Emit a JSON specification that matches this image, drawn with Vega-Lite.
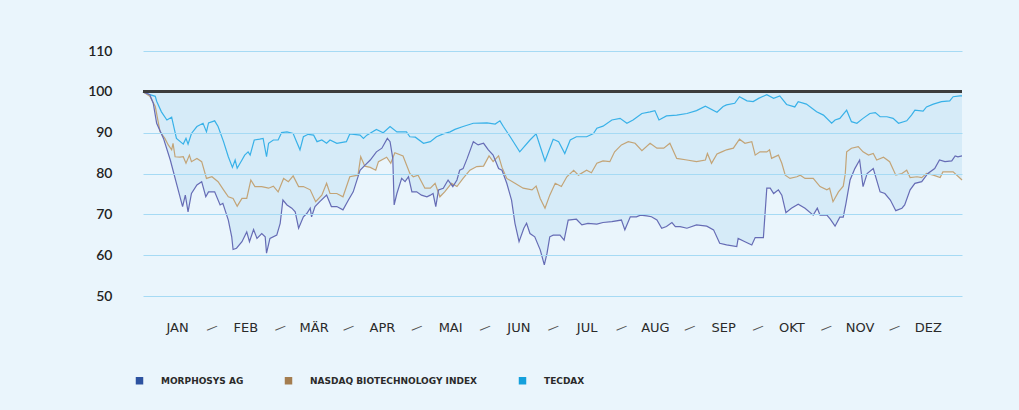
{
  "$schema": "https://vega.github.io/schema/vega-lite/v6.json",
  "autosize": {"type": "none"},
  "width": 819,
  "height": 245,
  "padding": {"left": 143, "top": 51, "right": 57, "bottom": 114},
  "background": "#eaf5fc",
  "config": {
    "view": {"stroke": null},
    "axis": {"domain": false, "ticks": false, "tickSize": 0, "title": null}
  },
  "resolve": {"axis": {"x": "independent"}},
  "data": {"values": [
    {"s":"TecDAX","t":0.00,"v":100},{"s":"TecDAX","t":0.10,"v":99.3},{"s":"TecDAX","t":0.18,"v":98.9},{"s":"TecDAX","t":0.20,"v":97.7},{"s":"TecDAX","t":0.27,"v":95.1},{"s":"TecDAX","t":0.35,"v":93.1},{"s":"TecDAX","t":0.42,"v":93.8},{"s":"TecDAX","t":0.44,"v":92.3},{"s":"TecDAX","t":0.49,"v":88.6},{"s":"TecDAX","t":0.59,"v":87.2},{"s":"TecDAX","t":0.63,"v":88.6},{"s":"TecDAX","t":0.66,"v":87.2},{"s":"TecDAX","t":0.71,"v":89.8},{"s":"TecDAX","t":0.79,"v":91.5},{"s":"TecDAX","t":0.88,"v":92.3},{"s":"TecDAX","t":0.93,"v":90.2},{"s":"TecDAX","t":0.96,"v":92.4},{"s":"TecDAX","t":1.05,"v":92.9},{"s":"TecDAX","t":1.10,"v":91.5},{"s":"TecDAX","t":1.18,"v":87.8},{"s":"TecDAX","t":1.25,"v":84.1},{"s":"TecDAX","t":1.31,"v":81.5},{"s":"TecDAX","t":1.35,"v":83.3},{"s":"TecDAX","t":1.38,"v":81.3},{"s":"TecDAX","t":1.45,"v":83.3},{"s":"TecDAX","t":1.49,"v":84.5},{"s":"TecDAX","t":1.54,"v":85.3},{"s":"TecDAX","t":1.57,"v":84.5},{"s":"TecDAX","t":1.63,"v":88.2},{"s":"TecDAX","t":1.71,"v":88.4},{"s":"TecDAX","t":1.76,"v":88.6},{"s":"TecDAX","t":1.81,"v":84.1},{"s":"TecDAX","t":1.84,"v":87.4},{"s":"TecDAX","t":1.91,"v":88.2},{"s":"TecDAX","t":1.98,"v":88.2},{"s":"TecDAX","t":2.03,"v":90.0},{"s":"TecDAX","t":2.11,"v":90.2},{"s":"TecDAX","t":2.20,"v":89.8},{"s":"TecDAX","t":2.25,"v":87.8},{"s":"TecDAX","t":2.30,"v":85.8},{"s":"TecDAX","t":2.35,"v":89.0},{"s":"TecDAX","t":2.42,"v":89.6},{"s":"TecDAX","t":2.50,"v":89.4},{"s":"TecDAX","t":2.55,"v":87.8},{"s":"TecDAX","t":2.62,"v":88.2},{"s":"TecDAX","t":2.69,"v":87.4},{"s":"TecDAX","t":2.74,"v":88.2},{"s":"TecDAX","t":2.84,"v":87.4},{"s":"TecDAX","t":2.98,"v":87.8},{"s":"TecDAX","t":3.03,"v":89.7},{"s":"TecDAX","t":3.18,"v":89.4},{"s":"TecDAX","t":3.23,"v":88.6},{"s":"TecDAX","t":3.28,"v":89.4},{"s":"TecDAX","t":3.42,"v":90.8},{"s":"TecDAX","t":3.52,"v":90.0},{"s":"TecDAX","t":3.62,"v":91.5},{"s":"TecDAX","t":3.72,"v":90.2},{"s":"TecDAX","t":3.86,"v":90.2},{"s":"TecDAX","t":3.91,"v":89.0},{"s":"TecDAX","t":3.99,"v":88.9},{"s":"TecDAX","t":4.11,"v":87.4},{"s":"TecDAX","t":4.21,"v":87.8},{"s":"TecDAX","t":4.30,"v":89.0},{"s":"TecDAX","t":4.40,"v":89.7},{"s":"TecDAX","t":4.50,"v":90.2},{"s":"TecDAX","t":4.57,"v":90.8},{"s":"TecDAX","t":4.69,"v":91.5},{"s":"TecDAX","t":4.84,"v":92.3},{"s":"TecDAX","t":5.04,"v":92.4},{"s":"TecDAX","t":5.16,"v":92.1},{"s":"TecDAX","t":5.23,"v":92.9},{"s":"TecDAX","t":5.28,"v":91.5},{"s":"TecDAX","t":5.38,"v":89.0},{"s":"TecDAX","t":5.52,"v":85.3},{"s":"TecDAX","t":5.67,"v":88.2},{"s":"TecDAX","t":5.76,"v":89.7},{"s":"TecDAX","t":5.82,"v":86.6},{"s":"TecDAX","t":5.89,"v":83.1},{"s":"TecDAX","t":6.01,"v":88.4},{"s":"TecDAX","t":6.09,"v":87.8},{"s":"TecDAX","t":6.18,"v":84.9},{"s":"TecDAX","t":6.26,"v":88.2},{"s":"TecDAX","t":6.35,"v":89.0},{"s":"TecDAX","t":6.50,"v":89.0},{"s":"TecDAX","t":6.60,"v":89.8},{"s":"TecDAX","t":6.65,"v":91.1},{"s":"TecDAX","t":6.74,"v":91.6},{"s":"TecDAX","t":6.87,"v":93.1},{"s":"TecDAX","t":6.99,"v":93.5},{"s":"TecDAX","t":7.09,"v":92.3},{"s":"TecDAX","t":7.18,"v":93.1},{"s":"TecDAX","t":7.31,"v":94.7},{"s":"TecDAX","t":7.43,"v":95.1},{"s":"TecDAX","t":7.50,"v":95.4},{"s":"TecDAX","t":7.56,"v":93.1},{"s":"TecDAX","t":7.67,"v":94.1},{"s":"TecDAX","t":7.82,"v":94.3},{"s":"TecDAX","t":7.97,"v":94.7},{"s":"TecDAX","t":8.11,"v":95.4},{"s":"TecDAX","t":8.24,"v":96.5},{"s":"TecDAX","t":8.41,"v":95.0},{"s":"TecDAX","t":8.50,"v":96.4},{"s":"TecDAX","t":8.55,"v":96.8},{"s":"TecDAX","t":8.67,"v":97.2},{"s":"TecDAX","t":8.74,"v":98.8},{"s":"TecDAX","t":8.85,"v":97.8},{"s":"TecDAX","t":8.94,"v":97.6},{"s":"TecDAX","t":9.02,"v":98.4},{"s":"TecDAX","t":9.14,"v":99.3},{"s":"TecDAX","t":9.24,"v":98.4},{"s":"TecDAX","t":9.33,"v":99.0},{"s":"TecDAX","t":9.43,"v":96.9},{"s":"TecDAX","t":9.55,"v":96.3},{"s":"TecDAX","t":9.60,"v":97.6},{"s":"TecDAX","t":9.72,"v":97.0},{"s":"TecDAX","t":9.87,"v":95.1},{"s":"TecDAX","t":9.97,"v":94.3},{"s":"TecDAX","t":10.09,"v":92.3},{"s":"TecDAX","t":10.14,"v":93.1},{"s":"TecDAX","t":10.21,"v":93.5},{"s":"TecDAX","t":10.31,"v":95.5},{"s":"TecDAX","t":10.38,"v":92.7},{"s":"TecDAX","t":10.46,"v":92.3},{"s":"TecDAX","t":10.55,"v":93.5},{"s":"TecDAX","t":10.65,"v":94.7},{"s":"TecDAX","t":10.73,"v":94.9},{"s":"TecDAX","t":10.80,"v":93.9},{"s":"TecDAX","t":10.90,"v":93.9},{"s":"TecDAX","t":10.99,"v":93.5},{"s":"TecDAX","t":11.07,"v":92.3},{"s":"TecDAX","t":11.19,"v":92.9},{"s":"TecDAX","t":11.26,"v":94.3},{"s":"TecDAX","t":11.31,"v":95.5},{"s":"TecDAX","t":11.43,"v":95.3},{"s":"TecDAX","t":11.48,"v":96.3},{"s":"TecDAX","t":11.58,"v":97.0},{"s":"TecDAX","t":11.70,"v":97.6},{"s":"TecDAX","t":11.82,"v":97.8},{"s":"TecDAX","t":11.87,"v":98.8},{"s":"TecDAX","t":11.97,"v":99.0},{"s":"TecDAX","t":12.00,"v":99.0},
    {"s":"Nasdaq Biotechnology Index","t":0.00,"v":100},{"s":"Nasdaq Biotechnology Index","t":0.10,"v":98.9},{"s":"Nasdaq Biotechnology Index","t":0.18,"v":96.4},{"s":"Nasdaq Biotechnology Index","t":0.25,"v":90.2},{"s":"Nasdaq Biotechnology Index","t":0.32,"v":88.6},{"s":"Nasdaq Biotechnology Index","t":0.37,"v":87.0},{"s":"Nasdaq Biotechnology Index","t":0.42,"v":85.8},{"s":"Nasdaq Biotechnology Index","t":0.44,"v":87.4},{"s":"Nasdaq Biotechnology Index","t":0.47,"v":84.1},{"s":"Nasdaq Biotechnology Index","t":0.54,"v":84.0},{"s":"Nasdaq Biotechnology Index","t":0.59,"v":84.1},{"s":"Nasdaq Biotechnology Index","t":0.63,"v":82.5},{"s":"Nasdaq Biotechnology Index","t":0.68,"v":84.5},{"s":"Nasdaq Biotechnology Index","t":0.71,"v":82.9},{"s":"Nasdaq Biotechnology Index","t":0.79,"v":83.7},{"s":"Nasdaq Biotechnology Index","t":0.86,"v":82.9},{"s":"Nasdaq Biotechnology Index","t":0.93,"v":78.8},{"s":"Nasdaq Biotechnology Index","t":1.01,"v":79.2},{"s":"Nasdaq Biotechnology Index","t":1.10,"v":78.0},{"s":"Nasdaq Biotechnology Index","t":1.18,"v":76.0},{"s":"Nasdaq Biotechnology Index","t":1.25,"v":74.3},{"s":"Nasdaq Biotechnology Index","t":1.32,"v":73.9},{"s":"Nasdaq Biotechnology Index","t":1.38,"v":72.0},{"s":"Nasdaq Biotechnology Index","t":1.45,"v":73.9},{"s":"Nasdaq Biotechnology Index","t":1.52,"v":73.9},{"s":"Nasdaq Biotechnology Index","t":1.58,"v":78.4},{"s":"Nasdaq Biotechnology Index","t":1.64,"v":76.8},{"s":"Nasdaq Biotechnology Index","t":1.74,"v":76.8},{"s":"Nasdaq Biotechnology Index","t":1.84,"v":76.4},{"s":"Nasdaq Biotechnology Index","t":1.91,"v":76.9},{"s":"Nasdaq Biotechnology Index","t":1.98,"v":75.5},{"s":"Nasdaq Biotechnology Index","t":2.06,"v":78.8},{"s":"Nasdaq Biotechnology Index","t":2.13,"v":78.0},{"s":"Nasdaq Biotechnology Index","t":2.20,"v":79.4},{"s":"Nasdaq Biotechnology Index","t":2.28,"v":76.8},{"s":"Nasdaq Biotechnology Index","t":2.35,"v":76.8},{"s":"Nasdaq Biotechnology Index","t":2.45,"v":76.0},{"s":"Nasdaq Biotechnology Index","t":2.53,"v":73.1},{"s":"Nasdaq Biotechnology Index","t":2.62,"v":74.7},{"s":"Nasdaq Biotechnology Index","t":2.69,"v":77.6},{"s":"Nasdaq Biotechnology Index","t":2.74,"v":75.1},{"s":"Nasdaq Biotechnology Index","t":2.84,"v":75.1},{"s":"Nasdaq Biotechnology Index","t":2.93,"v":74.3},{"s":"Nasdaq Biotechnology Index","t":3.03,"v":79.2},{"s":"Nasdaq Biotechnology Index","t":3.15,"v":79.6},{"s":"Nasdaq Biotechnology Index","t":3.19,"v":84.1},{"s":"Nasdaq Biotechnology Index","t":3.25,"v":81.8},{"s":"Nasdaq Biotechnology Index","t":3.33,"v":81.5},{"s":"Nasdaq Biotechnology Index","t":3.41,"v":80.8},{"s":"Nasdaq Biotechnology Index","t":3.45,"v":82.9},{"s":"Nasdaq Biotechnology Index","t":3.57,"v":84.0},{"s":"Nasdaq Biotechnology Index","t":3.63,"v":82.5},{"s":"Nasdaq Biotechnology Index","t":3.69,"v":85.1},{"s":"Nasdaq Biotechnology Index","t":3.81,"v":84.3},{"s":"Nasdaq Biotechnology Index","t":3.91,"v":80.0},{"s":"Nasdaq Biotechnology Index","t":3.96,"v":79.2},{"s":"Nasdaq Biotechnology Index","t":4.03,"v":79.6},{"s":"Nasdaq Biotechnology Index","t":4.13,"v":76.4},{"s":"Nasdaq Biotechnology Index","t":4.21,"v":76.4},{"s":"Nasdaq Biotechnology Index","t":4.28,"v":77.6},{"s":"Nasdaq Biotechnology Index","t":4.35,"v":74.3},{"s":"Nasdaq Biotechnology Index","t":4.42,"v":75.5},{"s":"Nasdaq Biotechnology Index","t":4.52,"v":77.6},{"s":"Nasdaq Biotechnology Index","t":4.60,"v":76.8},{"s":"Nasdaq Biotechnology Index","t":4.69,"v":78.8},{"s":"Nasdaq Biotechnology Index","t":4.79,"v":80.8},{"s":"Nasdaq Biotechnology Index","t":4.89,"v":81.7},{"s":"Nasdaq Biotechnology Index","t":4.99,"v":81.8},{"s":"Nasdaq Biotechnology Index","t":5.07,"v":84.3},{"s":"Nasdaq Biotechnology Index","t":5.13,"v":82.9},{"s":"Nasdaq Biotechnology Index","t":5.21,"v":84.3},{"s":"Nasdaq Biotechnology Index","t":5.26,"v":81.5},{"s":"Nasdaq Biotechnology Index","t":5.33,"v":78.8},{"s":"Nasdaq Biotechnology Index","t":5.45,"v":77.6},{"s":"Nasdaq Biotechnology Index","t":5.57,"v":76.4},{"s":"Nasdaq Biotechnology Index","t":5.70,"v":76.0},{"s":"Nasdaq Biotechnology Index","t":5.76,"v":76.9},{"s":"Nasdaq Biotechnology Index","t":5.82,"v":73.9},{"s":"Nasdaq Biotechnology Index","t":5.89,"v":71.5},{"s":"Nasdaq Biotechnology Index","t":5.96,"v":74.7},{"s":"Nasdaq Biotechnology Index","t":6.04,"v":77.6},{"s":"Nasdaq Biotechnology Index","t":6.13,"v":76.8},{"s":"Nasdaq Biotechnology Index","t":6.21,"v":79.2},{"s":"Nasdaq Biotechnology Index","t":6.31,"v":80.8},{"s":"Nasdaq Biotechnology Index","t":6.38,"v":79.6},{"s":"Nasdaq Biotechnology Index","t":6.50,"v":80.8},{"s":"Nasdaq Biotechnology Index","t":6.57,"v":80.2},{"s":"Nasdaq Biotechnology Index","t":6.65,"v":82.5},{"s":"Nasdaq Biotechnology Index","t":6.74,"v":83.1},{"s":"Nasdaq Biotechnology Index","t":6.84,"v":82.9},{"s":"Nasdaq Biotechnology Index","t":6.91,"v":85.3},{"s":"Nasdaq Biotechnology Index","t":7.01,"v":87.0},{"s":"Nasdaq Biotechnology Index","t":7.11,"v":87.8},{"s":"Nasdaq Biotechnology Index","t":7.21,"v":87.4},{"s":"Nasdaq Biotechnology Index","t":7.31,"v":85.6},{"s":"Nasdaq Biotechnology Index","t":7.43,"v":87.4},{"s":"Nasdaq Biotechnology Index","t":7.53,"v":86.2},{"s":"Nasdaq Biotechnology Index","t":7.63,"v":86.2},{"s":"Nasdaq Biotechnology Index","t":7.72,"v":87.4},{"s":"Nasdaq Biotechnology Index","t":7.82,"v":83.7},{"s":"Nasdaq Biotechnology Index","t":7.97,"v":83.3},{"s":"Nasdaq Biotechnology Index","t":8.11,"v":82.9},{"s":"Nasdaq Biotechnology Index","t":8.24,"v":83.3},{"s":"Nasdaq Biotechnology Index","t":8.27,"v":84.9},{"s":"Nasdaq Biotechnology Index","t":8.33,"v":82.5},{"s":"Nasdaq Biotechnology Index","t":8.41,"v":84.8},{"s":"Nasdaq Biotechnology Index","t":8.48,"v":85.3},{"s":"Nasdaq Biotechnology Index","t":8.55,"v":85.8},{"s":"Nasdaq Biotechnology Index","t":8.65,"v":86.2},{"s":"Nasdaq Biotechnology Index","t":8.74,"v":88.4},{"s":"Nasdaq Biotechnology Index","t":8.82,"v":87.4},{"s":"Nasdaq Biotechnology Index","t":8.92,"v":87.8},{"s":"Nasdaq Biotechnology Index","t":8.97,"v":84.5},{"s":"Nasdaq Biotechnology Index","t":9.04,"v":85.3},{"s":"Nasdaq Biotechnology Index","t":9.14,"v":85.3},{"s":"Nasdaq Biotechnology Index","t":9.18,"v":85.8},{"s":"Nasdaq Biotechnology Index","t":9.21,"v":83.7},{"s":"Nasdaq Biotechnology Index","t":9.31,"v":84.5},{"s":"Nasdaq Biotechnology Index","t":9.36,"v":82.5},{"s":"Nasdaq Biotechnology Index","t":9.41,"v":79.6},{"s":"Nasdaq Biotechnology Index","t":9.48,"v":78.8},{"s":"Nasdaq Biotechnology Index","t":9.58,"v":79.2},{"s":"Nasdaq Biotechnology Index","t":9.63,"v":79.6},{"s":"Nasdaq Biotechnology Index","t":9.70,"v":78.8},{"s":"Nasdaq Biotechnology Index","t":9.82,"v":78.8},{"s":"Nasdaq Biotechnology Index","t":9.92,"v":76.8},{"s":"Nasdaq Biotechnology Index","t":10.02,"v":76.0},{"s":"Nasdaq Biotechnology Index","t":10.06,"v":76.4},{"s":"Nasdaq Biotechnology Index","t":10.11,"v":73.1},{"s":"Nasdaq Biotechnology Index","t":10.19,"v":75.5},{"s":"Nasdaq Biotechnology Index","t":10.26,"v":76.9},{"s":"Nasdaq Biotechnology Index","t":10.29,"v":80.0},{"s":"Nasdaq Biotechnology Index","t":10.31,"v":85.3},{"s":"Nasdaq Biotechnology Index","t":10.38,"v":86.2},{"s":"Nasdaq Biotechnology Index","t":10.48,"v":86.6},{"s":"Nasdaq Biotechnology Index","t":10.55,"v":85.3},{"s":"Nasdaq Biotechnology Index","t":10.63,"v":84.5},{"s":"Nasdaq Biotechnology Index","t":10.70,"v":84.9},{"s":"Nasdaq Biotechnology Index","t":10.75,"v":83.3},{"s":"Nasdaq Biotechnology Index","t":10.85,"v":84.0},{"s":"Nasdaq Biotechnology Index","t":10.94,"v":82.9},{"s":"Nasdaq Biotechnology Index","t":11.03,"v":79.6},{"s":"Nasdaq Biotechnology Index","t":11.12,"v":80.0},{"s":"Nasdaq Biotechnology Index","t":11.19,"v":80.8},{"s":"Nasdaq Biotechnology Index","t":11.24,"v":79.0},{"s":"Nasdaq Biotechnology Index","t":11.34,"v":79.2},{"s":"Nasdaq Biotechnology Index","t":11.41,"v":79.0},{"s":"Nasdaq Biotechnology Index","t":11.48,"v":80.0},{"s":"Nasdaq Biotechnology Index","t":11.58,"v":79.6},{"s":"Nasdaq Biotechnology Index","t":11.68,"v":79.0},{"s":"Nasdaq Biotechnology Index","t":11.72,"v":80.4},{"s":"Nasdaq Biotechnology Index","t":11.87,"v":80.4},{"s":"Nasdaq Biotechnology Index","t":12.00,"v":78.4},
    {"s":"MorphoSys AG","t":0.00,"v":100},{"s":"MorphoSys AG","t":0.10,"v":99.3},{"s":"MorphoSys AG","t":0.15,"v":97.2},{"s":"MorphoSys AG","t":0.20,"v":92.3},{"s":"MorphoSys AG","t":0.30,"v":88.6},{"s":"MorphoSys AG","t":0.40,"v":83.3},{"s":"MorphoSys AG","t":0.49,"v":77.6},{"s":"MorphoSys AG","t":0.58,"v":71.9},{"s":"MorphoSys AG","t":0.62,"v":74.7},{"s":"MorphoSys AG","t":0.66,"v":70.6},{"s":"MorphoSys AG","t":0.71,"v":75.1},{"s":"MorphoSys AG","t":0.79,"v":77.2},{"s":"MorphoSys AG","t":0.86,"v":78.0},{"s":"MorphoSys AG","t":0.92,"v":74.3},{"s":"MorphoSys AG","t":0.96,"v":75.5},{"s":"MorphoSys AG","t":1.05,"v":75.5},{"s":"MorphoSys AG","t":1.13,"v":72.3},{"s":"MorphoSys AG","t":1.17,"v":72.7},{"s":"MorphoSys AG","t":1.25,"v":68.6},{"s":"MorphoSys AG","t":1.30,"v":64.5},{"s":"MorphoSys AG","t":1.32,"v":61.4},{"s":"MorphoSys AG","t":1.37,"v":61.7},{"s":"MorphoSys AG","t":1.45,"v":63.3},{"s":"MorphoSys AG","t":1.52,"v":65.7},{"s":"MorphoSys AG","t":1.56,"v":63.3},{"s":"MorphoSys AG","t":1.62,"v":66.3},{"s":"MorphoSys AG","t":1.67,"v":64.1},{"s":"MorphoSys AG","t":1.74,"v":65.3},{"s":"MorphoSys AG","t":1.79,"v":64.5},{"s":"MorphoSys AG","t":1.81,"v":60.5},{"s":"MorphoSys AG","t":1.86,"v":64.1},{"s":"MorphoSys AG","t":1.96,"v":64.9},{"s":"MorphoSys AG","t":2.01,"v":67.8},{"s":"MorphoSys AG","t":2.05,"v":73.5},{"s":"MorphoSys AG","t":2.11,"v":72.3},{"s":"MorphoSys AG","t":2.18,"v":71.5},{"s":"MorphoSys AG","t":2.23,"v":70.6},{"s":"MorphoSys AG","t":2.28,"v":66.6},{"s":"MorphoSys AG","t":2.35,"v":69.4},{"s":"MorphoSys AG","t":2.40,"v":70.2},{"s":"MorphoSys AG","t":2.45,"v":71.5},{"s":"MorphoSys AG","t":2.47,"v":69.4},{"s":"MorphoSys AG","t":2.52,"v":71.9},{"s":"MorphoSys AG","t":2.59,"v":73.1},{"s":"MorphoSys AG","t":2.69,"v":74.7},{"s":"MorphoSys AG","t":2.76,"v":71.9},{"s":"MorphoSys AG","t":2.84,"v":71.9},{"s":"MorphoSys AG","t":2.93,"v":71.1},{"s":"MorphoSys AG","t":3.01,"v":73.5},{"s":"MorphoSys AG","t":3.08,"v":75.5},{"s":"MorphoSys AG","t":3.18,"v":80.8},{"s":"MorphoSys AG","t":3.25,"v":82.0},{"s":"MorphoSys AG","t":3.33,"v":83.3},{"s":"MorphoSys AG","t":3.42,"v":85.3},{"s":"MorphoSys AG","t":3.50,"v":86.2},{"s":"MorphoSys AG","t":3.58,"v":88.6},{"s":"MorphoSys AG","t":3.62,"v":87.8},{"s":"MorphoSys AG","t":3.66,"v":83.7},{"s":"MorphoSys AG","t":3.68,"v":72.3},{"s":"MorphoSys AG","t":3.72,"v":75.1},{"s":"MorphoSys AG","t":3.79,"v":78.8},{"s":"MorphoSys AG","t":3.84,"v":78.0},{"s":"MorphoSys AG","t":3.89,"v":79.2},{"s":"MorphoSys AG","t":3.94,"v":75.5},{"s":"MorphoSys AG","t":4.01,"v":75.5},{"s":"MorphoSys AG","t":4.08,"v":74.7},{"s":"MorphoSys AG","t":4.16,"v":74.3},{"s":"MorphoSys AG","t":4.21,"v":74.7},{"s":"MorphoSys AG","t":4.25,"v":75.1},{"s":"MorphoSys AG","t":4.29,"v":71.9},{"s":"MorphoSys AG","t":4.33,"v":76.0},{"s":"MorphoSys AG","t":4.40,"v":76.4},{"s":"MorphoSys AG","t":4.47,"v":78.4},{"s":"MorphoSys AG","t":4.54,"v":76.8},{"s":"MorphoSys AG","t":4.60,"v":78.4},{"s":"MorphoSys AG","t":4.64,"v":80.8},{"s":"MorphoSys AG","t":4.69,"v":81.2},{"s":"MorphoSys AG","t":4.75,"v":83.7},{"s":"MorphoSys AG","t":4.84,"v":87.8},{"s":"MorphoSys AG","t":4.91,"v":87.0},{"s":"MorphoSys AG","t":4.99,"v":87.4},{"s":"MorphoSys AG","t":5.06,"v":85.8},{"s":"MorphoSys AG","t":5.13,"v":84.5},{"s":"MorphoSys AG","t":5.21,"v":81.2},{"s":"MorphoSys AG","t":5.26,"v":80.8},{"s":"MorphoSys AG","t":5.33,"v":77.6},{"s":"MorphoSys AG","t":5.40,"v":73.5},{"s":"MorphoSys AG","t":5.45,"v":67.8},{"s":"MorphoSys AG","t":5.51,"v":63.3},{"s":"MorphoSys AG","t":5.58,"v":66.6},{"s":"MorphoSys AG","t":5.62,"v":67.8},{"s":"MorphoSys AG","t":5.67,"v":65.3},{"s":"MorphoSys AG","t":5.74,"v":64.5},{"s":"MorphoSys AG","t":5.82,"v":61.3},{"s":"MorphoSys AG","t":5.88,"v":57.6},{"s":"MorphoSys AG","t":5.92,"v":60.5},{"s":"MorphoSys AG","t":5.96,"v":64.5},{"s":"MorphoSys AG","t":6.01,"v":64.9},{"s":"MorphoSys AG","t":6.11,"v":64.9},{"s":"MorphoSys AG","t":6.17,"v":63.7},{"s":"MorphoSys AG","t":6.23,"v":68.6},{"s":"MorphoSys AG","t":6.35,"v":68.8},{"s":"MorphoSys AG","t":6.43,"v":67.4},{"s":"MorphoSys AG","t":6.52,"v":67.8},{"s":"MorphoSys AG","t":6.65,"v":67.6},{"s":"MorphoSys AG","t":6.74,"v":68.0},{"s":"MorphoSys AG","t":6.87,"v":68.2},{"s":"MorphoSys AG","t":7.01,"v":68.6},{"s":"MorphoSys AG","t":7.06,"v":66.2},{"s":"MorphoSys AG","t":7.14,"v":69.4},{"s":"MorphoSys AG","t":7.23,"v":69.4},{"s":"MorphoSys AG","t":7.29,"v":69.8},{"s":"MorphoSys AG","t":7.38,"v":69.6},{"s":"MorphoSys AG","t":7.45,"v":69.4},{"s":"MorphoSys AG","t":7.53,"v":68.6},{"s":"MorphoSys AG","t":7.60,"v":66.6},{"s":"MorphoSys AG","t":7.67,"v":67.0},{"s":"MorphoSys AG","t":7.75,"v":68.0},{"s":"MorphoSys AG","t":7.80,"v":67.0},{"s":"MorphoSys AG","t":7.87,"v":67.0},{"s":"MorphoSys AG","t":7.97,"v":66.6},{"s":"MorphoSys AG","t":8.11,"v":67.4},{"s":"MorphoSys AG","t":8.26,"v":67.1},{"s":"MorphoSys AG","t":8.36,"v":66.2},{"s":"MorphoSys AG","t":8.45,"v":62.9},{"s":"MorphoSys AG","t":8.55,"v":62.5},{"s":"MorphoSys AG","t":8.70,"v":62.1},{"s":"MorphoSys AG","t":8.72,"v":64.1},{"s":"MorphoSys AG","t":8.82,"v":63.3},{"s":"MorphoSys AG","t":8.92,"v":62.5},{"s":"MorphoSys AG","t":8.97,"v":64.3},{"s":"MorphoSys AG","t":9.09,"v":64.3},{"s":"MorphoSys AG","t":9.14,"v":76.4},{"s":"MorphoSys AG","t":9.19,"v":76.4},{"s":"MorphoSys AG","t":9.24,"v":75.1},{"s":"MorphoSys AG","t":9.31,"v":76.0},{"s":"MorphoSys AG","t":9.36,"v":74.7},{"s":"MorphoSys AG","t":9.42,"v":70.4},{"s":"MorphoSys AG","t":9.50,"v":71.5},{"s":"MorphoSys AG","t":9.60,"v":72.5},{"s":"MorphoSys AG","t":9.70,"v":71.5},{"s":"MorphoSys AG","t":9.82,"v":69.8},{"s":"MorphoSys AG","t":9.88,"v":71.5},{"s":"MorphoSys AG","t":9.92,"v":69.8},{"s":"MorphoSys AG","t":10.02,"v":69.8},{"s":"MorphoSys AG","t":10.07,"v":68.8},{"s":"MorphoSys AG","t":10.14,"v":67.1},{"s":"MorphoSys AG","t":10.21,"v":69.3},{"s":"MorphoSys AG","t":10.26,"v":69.3},{"s":"MorphoSys AG","t":10.30,"v":72.7},{"s":"MorphoSys AG","t":10.36,"v":78.4},{"s":"MorphoSys AG","t":10.43,"v":81.2},{"s":"MorphoSys AG","t":10.50,"v":83.3},{"s":"MorphoSys AG","t":10.55,"v":76.8},{"s":"MorphoSys AG","t":10.61,"v":80.0},{"s":"MorphoSys AG","t":10.70,"v":81.2},{"s":"MorphoSys AG","t":10.80,"v":75.5},{"s":"MorphoSys AG","t":10.87,"v":75.1},{"s":"MorphoSys AG","t":10.95,"v":73.5},{"s":"MorphoSys AG","t":11.03,"v":70.9},{"s":"MorphoSys AG","t":11.12,"v":71.5},{"s":"MorphoSys AG","t":11.16,"v":72.3},{"s":"MorphoSys AG","t":11.24,"v":76.0},{"s":"MorphoSys AG","t":11.31,"v":77.6},{"s":"MorphoSys AG","t":11.41,"v":78.0},{"s":"MorphoSys AG","t":11.50,"v":80.0},{"s":"MorphoSys AG","t":11.60,"v":81.2},{"s":"MorphoSys AG","t":11.67,"v":83.3},{"s":"MorphoSys AG","t":11.75,"v":82.9},{"s":"MorphoSys AG","t":11.85,"v":83.1},{"s":"MorphoSys AG","t":11.90,"v":84.3},{"s":"MorphoSys AG","t":11.94,"v":84.1},{"s":"MorphoSys AG","t":12.00,"v":84.3}
  ]},
  "layer": [
    {
      "mark": {"type": "area", "color": "#d6ebf8", "opacity": 1},
      "encoding": {
        "x": {"field": "t", "type": "quantitative", "scale": {"domain": [0, 12], "nice": false, "zero": false},
          "axis": {
            "orient": "bottom",
            "values": [0.5, 1.5, 2.5, 3.5, 4.5, 5.5, 6.5, 7.5, 8.5, 9.5, 10.5, 11.5],
            "labelExpr": "['JAN','FEB','MÄR','APR','MAI','JUN','JUL','AUG','SEP','OKT','NOV','DEZ'][floor(datum.value)]",
            "grid": false, "labelPadding": 31, "labelBaseline": "middle", "labelAlign": "center",
            "labelFont": "DejaVu Sans", "labelFontSize": 13, "labelColor": "#2a2a2a",
            "labelOverlap": false, "labelBound": false, "labelFlush": false
          }},
        "y": {"field": "v", "type": "quantitative", "scale": {"domain": [50, 110], "nice": false, "zero": false},
          "axis": {
            "values": [50, 60, 70, 80, 90, 100, 110],
            "grid": true, "gridColor": "#a6daf4", "gridWidth": 1,
            "gridOpacity": {"condition": {"test": "datum.value === 100", "value": 0}, "value": 1},
            "zindex": 1,
            "labelPadding": 31, "labelFont": "Lato", "labelFontSize": 14, "labelFontWeight": 600, "labelColor": "#222222"
          }},
        "y2": {"datum": 100},
        "detail": {"field": "s"}
      }
    },
    {
      "mark": {"type": "line", "strokeWidth": 1.2, "interpolate": "linear"},
      "encoding": {
        "x": {"field": "t", "type": "quantitative",
          "axis": {
            "orient": "bottom",
            "values": [1, 2, 3, 4, 5, 6, 7, 8, 9, 10, 11],
            "labelExpr": "'—'",
            "grid": false, "labelPadding": 31, "labelBaseline": "middle", "labelAlign": "center",
            "labelAngle": -22,
            "labelFont": "DejaVu Sans", "labelFontSize": 12, "labelColor": "#555555",
            "labelOverlap": false, "labelBound": false, "labelFlush": false
          }},
        "y": {"field": "v", "type": "quantitative"},
        "color": {
          "field": "s", "type": "nominal",
          "scale": {"domain": ["MorphoSys AG", "Nasdaq Biotechnology Index", "TecDAX"], "range": ["#666cb5", "#c3a477", "#38b1e8"]},
          "legend": {
            "orient": "none", "legendX": -8, "legendY": 325, "direction": "horizontal",
            "title": null, "symbolType": "square", "symbolSize": 56, "symbolStrokeWidth": 0,
            "labelExpr": "upper(datum.label)", "labelFont": "DejaVu Sans", "labelFontSize": 9, "labelFontWeight": "bold",
            "labelColor": "#2a2a2a", "labelOffset": 17, "columnPadding": 40, "padding": 0, "labelLimit": 400,
            "encode": {"symbols": {"update": {
              "fill": {"signal": "datum.value === 'MorphoSys AG' ? '#2d52a0' : datum.value === 'TecDAX' ? '#14a0dc' : '#a47d50'"},
              "fillOpacity": {"value": 1},
              "strokeWidth": {"value": 0}
            }}}
          }
        }
      }
    },
    {
      "mark": {"type": "rule", "color": "#3d3d3d", "strokeWidth": 2},
      "encoding": {"y": {"datum": 100}}
    }
  ]
}
